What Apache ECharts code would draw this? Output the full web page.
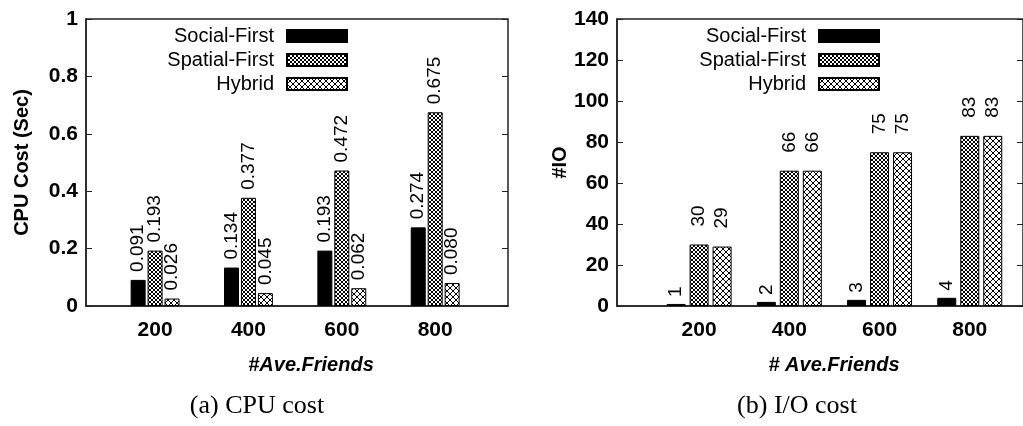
<!DOCTYPE html>
<html>
<head>
<meta charset="utf-8">
<script src="https://cdn.jsdelivr.net/npm/echarts@6/dist/echarts.min.js"></script>
<style>
html,body{margin:0;padding:0;background:#fff;}
#c{width:1023px;height:426px;}
</style>
</head>
<body>
<div id="c"></div>
<script>
// ---- data ----
const categories = [200, 400, 600, 800];
const seriesNames = ['Social-First', 'Spatial-First', 'Hybrid'];
const cpuSocial = [0.091, 0.134, 0.193, 0.274];
const cpuSpatial = [0.193, 0.377, 0.472, 0.675];
const cpuHybrid = [0.026, 0.045, 0.062, 0.080];
const ioSocial = [1, 2, 3, 4];
const ioSpatial = [30, 66, 75, 83];
const ioHybrid = [29, 66, 75, 83];
const captions = ['(a) CPU cost', '(b) I/O cost'];
const yNames = ['CPU Cost (Sec)', '#IO'];
const xNames = ['#Ave.Friends', '# Ave.Friends'];

// ---- patterns ----
function tile(n, fn) {
  const c = document.createElement('canvas');
  c.width = n; c.height = n;
  const g = c.getContext('2d');
  g.fillStyle = '#fff'; g.fillRect(0, 0, n, n);
  g.fillStyle = '#000';
  for (let y = 0; y < n; y++) for (let x = 0; x < n; x++) if (fn(x, y, n)) g.fillRect(x, y, 1, 1);
  return c;
}
const denseHatch = { image: tile(4, (x, y, n) => x === y || x === n - 1 - y), repeat: 'repeat' };
const crossHatch = { image: tile(6, (x, y, n) => x === y || x === n - 1 - y), repeat: 'repeat' };
const fills = ['#000', denseHatch, crossHatch];

const chart = echarts.init(document.getElementById('c'), null, { renderer: 'canvas' });
const FONT = 'Liberation Sans';

function pairs(vals) { return vals.map((v, i) => [categories[i], v]); }

function makeSeries(gi, lists, fmt, dists, bw, gap) {
  return lists.map((vals, k) => ({
    name: seriesNames[k],
    type: 'bar',
    xAxisIndex: gi,
    yAxisIndex: gi * 2,
    data: pairs(vals),
    barWidth: bw,
    barGap: gap,
    itemStyle: { color: fills[k], borderColor: '#000', borderWidth: 1 },
    label: {
      show: true, position: 'top', rotate: 90, align: 'left', verticalAlign: 'middle',
      distance: dists[k], color: '#000', fontFamily: FONT, fontSize: 19,
      formatter: p => fmt(p.value[1])
    }
  }));
}

const axisLineStyle = { color: '#222', width: 1.5 };
function xAxis(gi, min, max) {
  return {
    type: 'value', gridIndex: gi, min: min, max: max,
    axisLine: { show: true, lineStyle: axisLineStyle },
    axisTick: { show: false },
    splitLine: { show: false },
    axisLabel: {
      customValues: categories, formatter: v => String(v), margin: 14,
      color: '#000', fontFamily: FONT, fontWeight: 'bold', fontSize: 21
    },
    name: xNames[gi], nameLocation: 'middle', nameGap: 49,
    nameTextStyle: { color: '#000', fontFamily: FONT, fontWeight: 'bold', fontStyle: 'italic', fontSize: 20, padding: [0, 0, 0, 28] }
  };
}
function yAxes(gi, max, interval, nameGap) {
  return [{
    type: 'value', gridIndex: gi, min: 0, max: max, interval: interval, position: 'left',
    axisLine: { show: true, lineStyle: axisLineStyle },
    axisTick: { show: true, inside: true, length: 6, lineStyle: { color: '#222', width: 1 } },
    splitLine: { show: false },
    axisLabel: { margin: 8, color: '#000', fontFamily: FONT, fontWeight: 'bold', fontSize: 21 },
    name: yNames[gi], nameLocation: 'middle', nameGap: nameGap, nameRotate: 90,
    nameTextStyle: { color: '#000', fontFamily: FONT, fontWeight: 'bold', fontSize: 20 }
  }, {
    type: 'value', gridIndex: gi, min: 0, max: max, interval: interval, position: 'right',
    axisLine: { show: false },
    axisTick: { show: true, inside: true, length: 6, lineStyle: { color: '#222', width: 1 } },
    splitLine: { show: false },
    axisLabel: { show: false }
  }];
}
function legend(right) {
  return {
    data: seriesNames.map(n => ({ name: n, icon: 'rect' })),
    orient: 'vertical', align: 'right', right: right, top: 26,
    padding: 0, itemWidth: 60, itemHeight: 12, itemGap: 4, selectedMode: false,
    textStyle: { color: '#000', fontFamily: FONT, fontSize: 20, padding: [0, 8, 0, 0] }
  };
}

const option = {
  animation: false,
  backgroundColor: '#fff',
  grid: [
    { left: 86, top: 19, width: 422, height: 287, show: true, borderColor: '#222', borderWidth: 1.5, backgroundColor: 'transparent' },
    { left: 617, top: 19, width: 409, height: 287, show: true, borderColor: '#222', borderWidth: 1.5, backgroundColor: 'transparent' }
  ],
  legend: [legend(675), legend(143)],
  xAxis: [xAxis(0, 52, 956), xAxis(1, 18, 918)],
  yAxis: [].concat(yAxes(0, 1, 0.2, 54), yAxes(1, 140, 20, 42)),
  graphic: [
    { type: 'text', x: 257, y: 406, style: { text: captions[0], x: 0, y: 0, align: 'center', verticalAlign: 'middle', font: '26px "Liberation Serif"', fill: '#000' } },
    { type: 'text', x: 797, y: 406, style: { text: captions[1], x: 0, y: 0, align: 'center', verticalAlign: 'middle', font: '26px "Liberation Serif"', fill: '#000' } }
  ],
  series: [].concat(
    makeSeries(0, [cpuSocial, cpuSpatial, cpuHybrid], v => v.toFixed(3), [8, 8, 8], 15, '13%'),
    makeSeries(1, [ioSocial, ioSpatial, ioHybrid], v => String(v), [7, 18, 18], 19, '21%')
  )
};
chart.setOption(option);
</script>
</body>
</html>
